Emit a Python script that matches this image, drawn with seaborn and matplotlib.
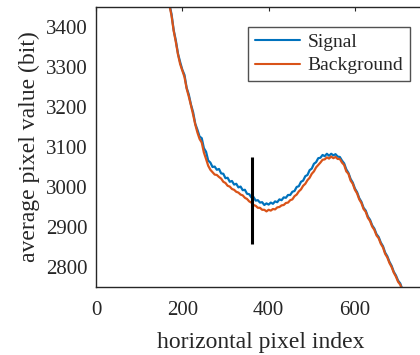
import numpy as np
import pandas as pd
import matplotlib
matplotlib.use("Agg")
import matplotlib.pyplot as plt
import seaborn as sns

pixel_index = list(range(160, 716, 5))
signal = [3490, 3476, 3457, 3432, 3392, 3366, 3333, 3312, 3293, 3280, 3248, 3231, 3206, 3187, 3158, 3143,
          3126, 3122, 3097, 3088, 3066, 3061, 3050, 3051, 3043, 3045, 3034, 3033, 3022, 3023, 3013, 3015,
          3006, 3008, 2999, 3001, 2992, 2993, 2983, 2982, 2974, 2975, 2966, 2967, 2961, 2962, 2955, 2959,
          2956, 2961, 2958, 2964, 2962, 2969, 2967, 2974, 2973, 2980, 2980, 2988, 2990, 3000, 3002, 3013,
          3016, 3027, 3030, 3042, 3046, 3058, 3062, 3072, 3073, 3080, 3077, 3083, 3078, 3083, 3079, 3082,
          3076, 3075, 3066, 3059, 3044, 3035, 3020, 3011, 2996, 2987, 2972, 2963, 2948, 2941, 2926, 2918,
          2904, 2896, 2882, 2875, 2861, 2852, 2836, 2827, 2813, 2803, 2788, 2779, 2766, 2759, 2744, 2736]
background = [3488, 3472, 3455, 3428, 3390, 3362, 3331, 3307, 3291, 3275, 3246, 3226, 3204, 3181, 3156, 3136,
              3120, 3111, 3086, 3070, 3053, 3043, 3037, 3031, 3030, 3025, 3021, 3013, 3010, 3003, 3001, 2995,
              2993, 2988, 2986, 2981, 2979, 2973, 2970, 2964, 2961, 2955, 2953, 2948, 2948, 2943, 2943, 2939,
              2943, 2941, 2945, 2944, 2949, 2950, 2954, 2955, 2960, 2961, 2967, 2969, 2977, 2981, 2989, 2994,
              3003, 3008, 3017, 3023, 3033, 3039, 3049, 3055, 3061, 3068, 3069, 3074, 3071, 3076, 3072, 3075,
              3070, 3070, 3061, 3055, 3039, 3033, 3016, 3008, 2993, 2984, 2969, 2960, 2945, 2938, 2923, 2915,
              2901, 2893, 2879, 2872, 2858, 2849, 2833, 2824, 2810, 2800, 2786, 2776, 2763, 2756, 2741, 2733]
series_names = ["Signal", "Background"]
marker_x = 362
marker_range = [2858, 3075]
x_ticks = [0, 200, 400, 600]
y_ticks = [2800, 2900, 3000, 3100, 3200, 3300, 3400]

df = pd.DataFrame({
    "x": pixel_index * 2,
    "y": signal + background,
    "series": [series_names[0]] * len(signal) + [series_names[1]] * len(background),
})

sns.set_theme(style="white")
plt.rcParams["font.family"] = ["Liberation Serif", "DejaVu Serif"]

fig = plt.figure(figsize=(4.2, 3.55), dpi=100)
ax = fig.add_axes([0.2286, 0.1915, 0.786, 0.789])

sns.lineplot(data=df, x="x", y="y", hue="series", palette=["#0072BD", "#D95319"],
             linewidth=1.6, ax=ax, legend=True)
ax.vlines(marker_x, marker_range[0], marker_range[1], color="black", linewidth=2.2)

ax.set_xlim(0, 765)
ax.set_ylim(2750, 3450)
ax.set_xticks(x_ticks)
ax.set_yticks(y_ticks)
ax.tick_params(direction="in", length=3, width=0.8, color="#262626", labelsize=15,
               labelcolor="#262626", top=True, right=True)
ax.tick_params(axis="x", pad=10)
ax.tick_params(axis="y", pad=6)
for s in ax.spines.values():
    s.set_color("#262626")
    s.set_linewidth(1.0)
ax.set_xlabel("horizontal pixel index", fontsize=17, color="#262626", labelpad=9)
ax.set_ylabel("average pixel value (bit)", fontsize=17, color="#262626", labelpad=4)

leg = ax.legend(loc="upper left", bbox_to_anchor=(0.461, 0.93), fontsize=14, frameon=True,
                fancybox=False, edgecolor="#262626", handlelength=2.3, borderpad=0.35,
                labelspacing=0.3, handletextpad=0.4, borderaxespad=0)
leg.get_frame().set_linewidth(1.0)
for l in leg.get_lines():
    l.set_linewidth(1.5)

fig.savefig("out.png", dpi=100)
